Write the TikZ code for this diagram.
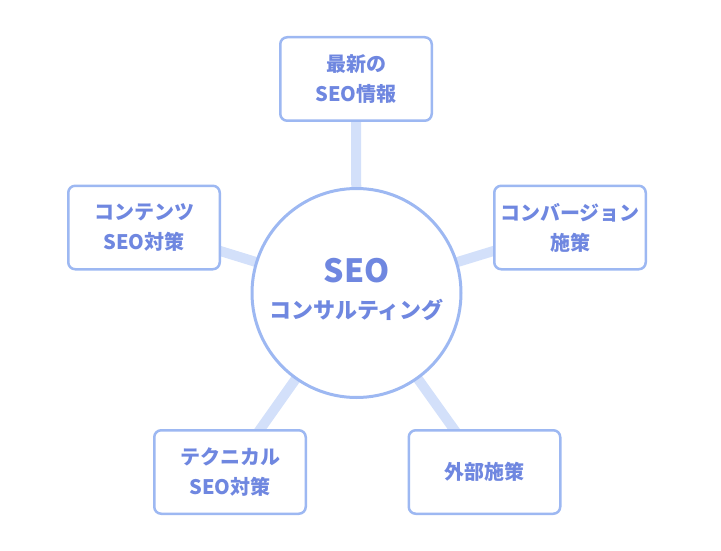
\documentclass[tikz,border=0pt]{standalone}
\usepackage{fontspec}
\setmainfont{Noto Sans CJK JP}
\usetikzlibrary{backgrounds}
\definecolor{txt}{HTML}{6F87E0}
\definecolor{bord}{HTML}{9DB8F2}
\definecolor{conn}{HTML}{D3E0FA}
\begin{document}
\begin{tikzpicture}[x=1pt,y=-1pt,
  box/.style={draw=bord, line width=2.5pt, rounded corners=7pt, fill=white,
    minimum width=151.5pt, minimum height=83.5pt, align=center, text=txt,
    inner sep=0pt, font=\bfseries\fontsize{20}{30}\selectfont},
  hub/.style={draw=bord, line width=3pt, circle, fill=white, minimum size=209pt, inner sep=0pt},
  lbl/.style={text=txt, inner sep=0pt},
  link/.style={draw=conn, line width=10pt}]
\useasboundingbox (0,0) rectangle (721,551);
\node[hub] (c) at (356.5,293) {};
\node[lbl, font=\bfseries\fontsize{32}{32}\selectfont] (seo) at (356.5,271) {SEO};
\node[lbl, font=\bfseries\fontsize{22}{22}\selectfont] (cons) at (356.5,310) {コンサルティング};
\node[box] (top) at (356,79) {最新の\\SEO情報};
\node[box] (left) at (144,227.5) {コンテンツ\\SEO対策};
\node[box] (right) at (570,227.5) {コンバージョン\\施策};
\node[box] (bl) at (230,472) {テクニカル\\SEO対策};
\node[box] (br) at (484.5,472) {外部施策};
\begin{scope}[on background layer]
\foreach \b in {top,left,right,bl,br} \draw[link] (c.center) -- (\b.center);
\end{scope}
\end{tikzpicture}
\end{document}
